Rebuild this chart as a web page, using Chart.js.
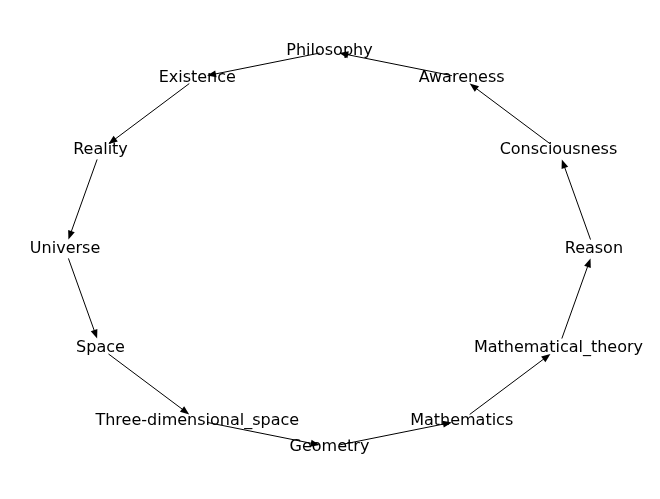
<!DOCTYPE html>
<html>
<head>
<meta charset="utf-8">
<script src="https://cdn.jsdelivr.net/npm/chart.js@4"></script>
<style>
  html, body { margin: 0; padding: 0; background: #fff; }
  #wrap { width: 660px; height: 499px; }
</style>
</head>
<body>
<div id="wrap"><canvas id="c"></canvas></div>
<script>
// nodes on a circle (circular layout)
const nodeNames = ["Philosophy", "Existence", "Reality", "Universe", "Space", "Three-dimensional_space",
  "Geometry", "Mathematics", "Mathematical_theory", "Reason", "Consciousness", "Awareness"];
const nodeX = [0, -0.5, -0.866, -1, -0.866, -0.5, 0, 0.5, 0.866, 1, 0.866, 0.5];
const nodeY = [1, 0.866, 0.5, 0, -0.5, -0.866, -1, -0.866, -0.5, 0, 0.5, 0.866];
// directed edges [from, to]
const edgeFrom = ["Philosophy", "Existence", "Reality", "Universe", "Space", "Three-dimensional_space",
  "Geometry", "Mathematics", "Mathematical_theory", "Reason", "Consciousness", "Awareness"];
const edgeTo = ["Existence", "Reality", "Universe", "Space", "Three-dimensional_space", "Geometry",
  "Mathematics", "Mathematical_theory", "Reason", "Consciousness", "Awareness", "Philosophy"];

const graphPlugin = {
  id: "graph",
  afterDatasetsDraw(chart) {
    const ctx = chart.ctx;
    const sx = chart.scales.x, sy = chart.scales.y;
    const px = n => sx.getPixelForValue(nodeX[nodeNames.indexOf(n)]);
    const py = n => sy.getPixelForValue(nodeY[nodeNames.indexOf(n)]);
    ctx.save();
    ctx.strokeStyle = "#000";
    ctx.fillStyle = "#000";
    ctx.lineWidth = 1;
    edgeFrom.forEach((f, i) => {
      const t = edgeTo[i];
      const x1 = px(f), y1 = py(f), x2 = px(t), y2 = py(t);
      const dx = x2 - x1, dy = y2 - y1, L = Math.hypot(dx, dy);
      const ux = dx / L, uy = dy / L;
      const r = 10;
      const ax = x1 + ux * r, ay = y1 + uy * r;
      const bx = x2 - ux * r, by = y2 - uy * r;
      ctx.beginPath();
      ctx.moveTo(ax, ay);
      ctx.lineTo(bx - ux * 8, by - uy * 8);
      ctx.stroke();
      ctx.beginPath();
      ctx.moveTo(bx, by);
      ctx.lineTo(bx - ux * 9 - uy * 3.5, by - uy * 9 + ux * 3.5);
      ctx.lineTo(bx - ux * 9 + uy * 3.5, by - uy * 9 - ux * 3.5);
      ctx.closePath();
      ctx.fill();
    });
    ctx.font = "16px 'DejaVu Sans'";
    ctx.textAlign = "center";
    ctx.textBaseline = "middle";
    nodeNames.forEach(n => ctx.fillText(n, px(n), py(n)));
    ctx.restore();
  }
};

new Chart(document.getElementById("c"), {
  type: "scatter",
  data: {
    datasets: [{
      data: nodeNames.map((n, i) => ({ x: nodeX[i], y: nodeY[i] })),
      pointRadius: 0
    }]
  },
  options: {
    responsive: true,
    maintainAspectRatio: false,
    animation: false,
    layout: { padding: 0 },
    plugins: { legend: { display: false }, tooltip: { enabled: false } },
    scales: {
      x: { display: false, min: -1.246, max: 1.25 },
      y: { display: false, min: -1.263, max: 1.258 }
    }
  },
  plugins: [graphPlugin]
});
</script>
</body>
</html>
